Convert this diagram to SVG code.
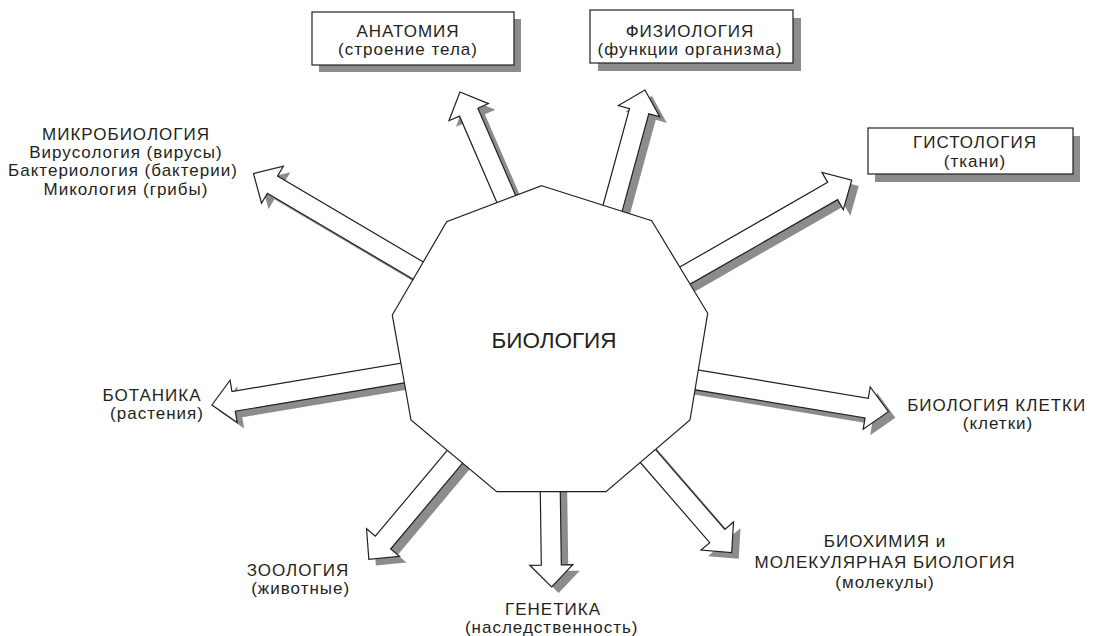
<svg xmlns="http://www.w3.org/2000/svg" width="1094" height="636" viewBox="0 0 1094 636">
<style>
text{font-family:"Liberation Sans",Arial,sans-serif;fill:#231f20;text-anchor:middle}
.t{font-size:17px;letter-spacing:1px}
.big{font-size:22.5px}
.box{fill:#fff;stroke:#231f20;stroke-width:1.2}
.bsh{fill:#8c8c8e}
.arr{fill:#fff;stroke:#231f20;stroke-width:1.2;stroke-linejoin:miter}
.ash{fill:#8c8c8e}
</style>
<rect width="1094" height="636" fill="#fff"/>
<g id="connectors">
  <g id="shadows">
    <path class="ash" transform="translate(513.7,206) rotate(-113.4)" d="M-15,-10 H95.7 V-21.5 L117.7,0 L95.7,21.5 V10 H-15 Z"/>
    <path class="ash" transform="translate(620,212.7) rotate(-74.7)" d="M-15,-10 H99 V-21.5 L121,0 L99,21.5 V10 H-15 Z"/>
    <path class="ash" transform="translate(693,281) rotate(-29.8)" d="M-15,-10 H169 V-21.5 L191,0 L169,21.5 V10 H-15 Z"/>
    <path class="ash" transform="translate(704,386) rotate(9.4)" d="M-15,-10 H172 V-21.5 L194,0 L172,21.5 V10 H-15 Z"/>
    <path class="ash" transform="translate(655.8,463) rotate(49.1)" d="M-15,-10 H104.6 V-21.5 L126.6,0 L104.6,21.5 V10 H-15 Z"/>
    <path class="ash" transform="translate(557.3,498) rotate(89.2)" d="M-15,-10 H73 V-21.5 L95,0 L73,21.5 V10 H-15 Z"/>
    <path class="ash" transform="translate(460.7,464.3) rotate(130)" d="M-15,-10 H110 V-21.5 L132,0 L110,21.5 V10 H-15 Z"/>
    <path class="ash" transform="translate(408.3,379.3) rotate(170.5)" d="M-15,-10 H170 V-21.5 L192,0 L170,21.5 V10 H-15 Z"/>
    <path class="ash" transform="translate(424.2,276) rotate(-149.5)" d="M-15,-10 H168 V-21.5 L190,0 L168,21.5 V10 H-15 Z"/>
  </g>
  <path id="arrow-anatomy" class="arr" transform="translate(506.7,200) rotate(-113.4)" d="M-15,-10 H95.7 V-21.5 L117.7,0 L95.7,21.5 V10 H-15 Z"/>
  <path id="arrow-physiology" class="arr" transform="translate(613,206.7) rotate(-74.7)" d="M-15,-10 H99 V-21.5 L121,0 L99,21.5 V10 H-15 Z"/>
  <path id="arrow-histology" class="arr" transform="translate(686,275) rotate(-29.8)" d="M-15,-10 H169 V-21.5 L191,0 L169,21.5 V10 H-15 Z"/>
  <path id="arrow-cell" class="arr" transform="translate(697,380) rotate(9.4)" d="M-15,-10 H172 V-21.5 L194,0 L172,21.5 V10 H-15 Z"/>
  <path id="arrow-biochem" class="arr" transform="translate(648.8,457) rotate(49.1)" d="M-15,-10 H104.6 V-21.5 L126.6,0 L104.6,21.5 V10 H-15 Z"/>
  <path id="arrow-genetics" class="arr" transform="translate(550.3,492) rotate(89.2)" d="M-15,-10 H73 V-21.5 L95,0 L73,21.5 V10 H-15 Z"/>
  <path id="arrow-zoology" class="arr" transform="translate(453.7,458.3) rotate(130)" d="M-15,-10 H110 V-21.5 L132,0 L110,21.5 V10 H-15 Z"/>
  <path id="arrow-botany" class="arr" transform="translate(401.3,373.3) rotate(170.5)" d="M-15,-10 H170 V-21.5 L192,0 L170,21.5 V10 H-15 Z"/>
  <path id="arrow-microbiology" class="arr" transform="translate(417.2,270) rotate(-149.5)" d="M-15,-10 H168 V-21.5 L190,0 L168,21.5 V10 H-15 Z"/>
</g>
<g id="node-biology">
  <polygon class="box" points="541.7,185.7 651.7,220.7 707.7,313.3 690,420 606,491.7 496.7,491.7 411,420 392.3,315 446.7,221.7"/>
  <text class="big" x="554" y="348">БИОЛОГИЯ</text>
</g>
<g id="node-anatomy">
  <rect class="bsh" x="319" y="19" width="202" height="53"/>
  <rect class="box" x="312" y="12" width="202" height="53"/>
  <text class="t" x="408" y="36.5">АНАТОМИЯ</text>
  <text class="t" x="408" y="54.5">(строение тела)</text>
</g>
<g id="node-physiology">
  <rect class="bsh" x="598" y="18" width="203" height="53"/>
  <rect class="box" x="590" y="10" width="203" height="53"/>
  <text class="t" x="690" y="36.5">ФИЗИОЛОГИЯ</text>
  <text class="t" x="690" y="54.5">(функции организма)</text>
</g>
<g id="node-histology">
  <rect class="bsh" x="875" y="136" width="205" height="46"/>
  <rect class="box" x="868" y="128" width="205" height="46"/>
  <text class="t" x="975" y="147.5">ГИСТОЛОГИЯ</text>
  <text class="t" x="975" y="166.5">(ткани)</text>
</g>
<g id="node-microbiology">
  <text class="t" x="126" y="139.5">МИКРОБИОЛОГИЯ</text>
  <text class="t" x="126" y="157.5">Вирусология (вирусы)</text>
  <text class="t" x="123" y="176">Бактериология (бактерии)</text>
  <text class="t" x="126" y="194.5">Микология (грибы)</text>
</g>
<g id="node-botany">
  <text class="t" x="152" y="400.5">БОТАНИКА</text>
  <text class="t" x="157" y="418.5">(растения)</text>
</g>
<g id="node-cell">
  <text class="t" x="996.7" y="410.5">БИОЛОГИЯ КЛЕТКИ</text>
  <text class="t" x="998" y="428.5">(клетки)</text>
</g>
<g id="node-zoology">
  <text class="t" x="298" y="576">ЗООЛОГИЯ</text>
  <text class="t" x="300.7" y="594">(животные)</text>
</g>
<g id="node-genetics">
  <text class="t" x="553" y="615">ГЕНЕТИКА</text>
  <text class="t" x="551.7" y="633">(наследственность)</text>
</g>
<g id="node-biochem">
  <text class="t" x="885" y="546.5">БИОХИМИЯ и</text>
  <text class="t" x="885" y="567.5">МОЛЕКУЛЯРНАЯ БИОЛОГИЯ</text>
  <text class="t" x="885" y="588">(молекулы)</text>
</g>
</svg>
